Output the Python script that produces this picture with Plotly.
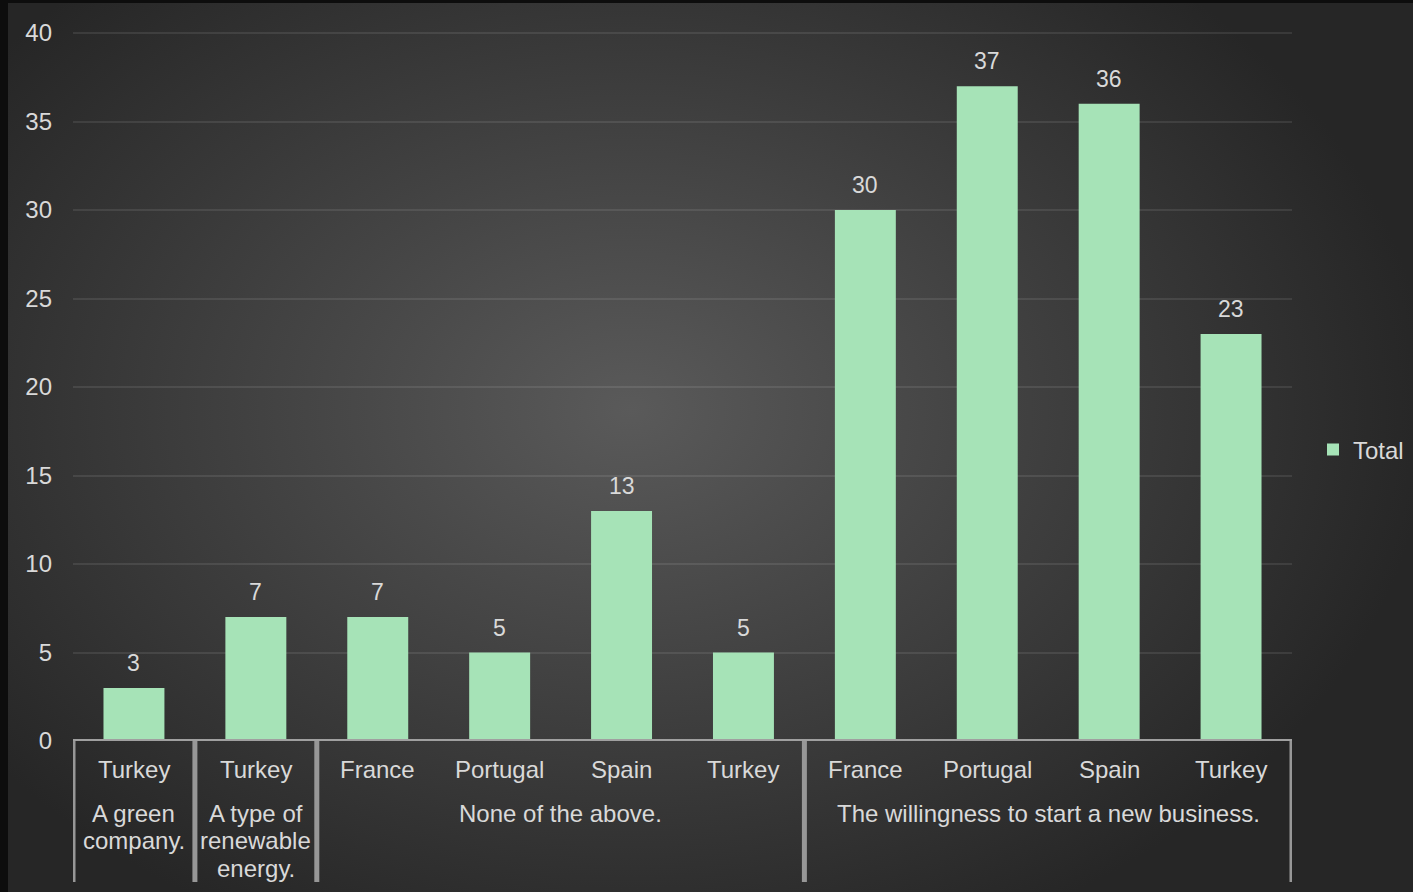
import plotly.graph_objects as go

# ---------------- data ----------------
countries = ["Turkey", "Turkey", "France", "Portugal", "Spain", "Turkey",
             "France", "Portugal", "Spain", "Turkey"]
values = [3, 7, 7, 5, 13, 5, 30, 37, 36, 23]
group_names = ["A green company.", "A type of renewable energy.",
               "None of the above.", "The willingness to start a new business."]
group_lines = [["A green", "company."], ["A type of", "renewable", "energy."],
               ["None of the above."], ["The willingness to start a new business."]]
group_sizes = [1, 1, 4, 4]
y_ticks = [0, 5, 10, 15, 20, 25, 30, 35, 40]
series_name = "Total"

# ---------------- style ----------------
W, H = 1413, 892
FONT = "Liberation Sans, Arial, sans-serif"
TXT = "#D9D9D9"
BAR = "#A6E3B7"
AXIS = "#A0A0A0"

def px_x(p):
    return p / W

def px_y(p):
    return 1 - p / H

plot_left, plot_right, plot_top, plot_bottom = 73, 1292, 32, 741

fig = go.Figure()

# background radial gradient (on a full-page helper axis)
cx, cy, ax_, by_ = 630, 410, 800, 580
gx = [(cx - ax_) / W, (cx + ax_) / W, (cx + ax_) / W, (cx - ax_) / W, (cx - ax_) / W]
gy = [1 - (cy + by_) / H, 1 - (cy + by_) / H, 1 - (cy - by_) / H, 1 - (cy - by_) / H, 1 - (cy + by_) / H]
fig.add_trace(go.Scatter(
    x=gx, y=gy, mode="lines", fill="toself", line=dict(width=0),
    fillgradient=dict(type="radial", colorscale=[[0, "#5a5a5a"], [1, "#262626"]]),
    hoverinfo="skip", showlegend=False, xaxis="x", yaxis="y"))

xs = list(range(len(values)))
fig.add_trace(go.Bar(
    x=xs, y=values, name=series_name, marker=dict(color=BAR, line=dict(width=0)),
    width=0.5, xaxis="x2", yaxis="y2", showlegend=True, hoverinfo="skip"))

# data labels
for x, v in zip(xs, values):
    fig.add_annotation(x=x, y=v, xref="x2", yref="y2", text=str(v), showarrow=False,
                       yanchor="bottom", yshift=10,
                       font=dict(family=FONT, size=23, color=TXT))

# category labels
lab_y = px_y(769)
for x, c in zip(xs, countries):
    fig.add_annotation(x=x, y=lab_y, xref="x2", yref="paper", text=c, showarrow=False,
                       yanchor="middle", font=dict(family=FONT, size=24, color=TXT))

# group labels and separators
shapes = []
start = 0
sep_positions = [-0.5]
for lines, n in zip(group_lines, group_sizes):
    center = start + (n - 1) / 2
    for k, ln in enumerate(lines):
        fig.add_annotation(x=center, y=px_y(813 + 27.5 * k), xref="x2", yref="paper",
                           text=ln, showarrow=False, yanchor="middle",
                           font=dict(family=FONT, size=24, color=TXT))
    start += n
    sep_positions.append(start - 0.5)

for sp in sep_positions:
    shapes.append(dict(type="line", xref="x2", yref="paper", x0=sp, x1=sp,
                       y0=px_y(741), y1=px_y(882), line=dict(color="#979797", width=5),
                       layer="above"))
# category axis line
shapes.append(dict(type="line", xref="x2", yref="y2", x0=-0.53, x1=9.53, y0=0, y1=0,
                   line=dict(color=AXIS, width=4), layer="above"))
# frame (top / left dark border)
shapes.append(dict(type="rect", xref="paper", yref="paper", x0=0, x1=px_x(8), y0=0, y1=1,
                   fillcolor="#0d0d0d", line=dict(width=0), layer="above"))
shapes.append(dict(type="rect", xref="paper", yref="paper", x0=0, x1=1, y0=px_y(3), y1=1,
                   fillcolor="#0d0d0d", line=dict(width=0), layer="above"))

fig.update_layout(
    width=W, height=H,
    margin=dict(l=0, r=0, t=0, b=0, autoexpand=False),
    paper_bgcolor="#262626", plot_bgcolor="rgba(0,0,0,0)",
    font=dict(family=FONT, color=TXT, size=24),
    xaxis=dict(domain=[0, 1], range=[0, 1], visible=False, fixedrange=True,
               automargin=False),
    yaxis=dict(domain=[0, 1], range=[0, 1], visible=False, fixedrange=True,
               automargin=False),
    xaxis2=dict(domain=[px_x(plot_left), px_x(plot_right)], range=[-0.5, 9.5],
                anchor="y2", showgrid=False, zeroline=False, showticklabels=False,
                ticks="", showline=False, automargin=False),
    yaxis2=dict(domain=[px_y(plot_bottom), px_y(plot_top)], range=[0, 40.06],
                anchor="x2", tickvals=y_ticks, showgrid=True,
                gridcolor="rgba(255,255,255,0.09)", gridwidth=2, zeroline=False,
                showline=False, ticks="", ticklabelstandoff=20, automargin=False,
                tickfont=dict(family=FONT, size=24, color=TXT)),
    showlegend=True,
    legend=dict(x=px_x(1409), y=px_y(450), xanchor="right", yanchor="middle",
                bgcolor="rgba(0,0,0,0)", font=dict(family=FONT, size=24, color=TXT),
                itemwidth=30),
    shapes=shapes,
    bargap=0.5,
)

fig.write_html("out.html", config={"displayModeBar": False, "staticPlot": False},
               post_script="document.body.style.margin='0';document.body.style.overflow='hidden';")
